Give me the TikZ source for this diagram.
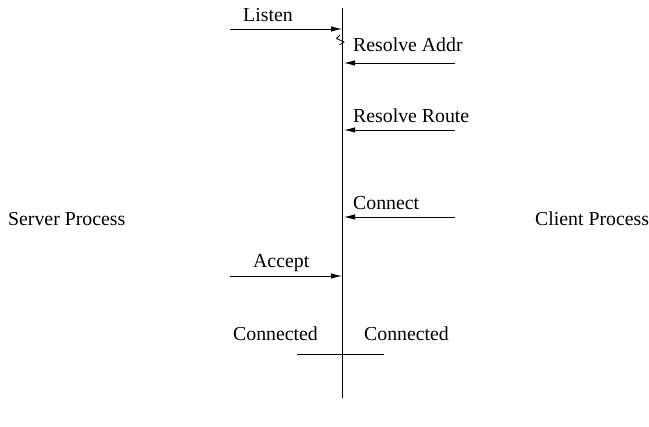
\documentclass[tikz,border=0pt]{standalone}
\usepackage{fontspec}
\setmainfont{Liberation Serif}
\usetikzlibrary{arrows.meta, positioning}
\tikzset{
  msg/.style={-{Latex[length=11pt,width=5.5pt]}, line width=0.9pt, color=black},
  line/.style={line width=0.9pt, color=black},
  lbl/.style={anchor=base west, inner sep=0pt, font=\fontsize{19.8}{24}\selectfont}
}
\begin{document}
\begin{tikzpicture}[x=1pt, y=-1pt]
  \useasboundingbox (0,0) rectangle (649,427);
  % lifeline
  \coordinate (top) at (342.5,8);
  \coordinate (bot) at (342.5,398);
  \draw[line] (top) -- (bot);

  % processes
  \node[lbl] (server) at (8,226) {Server Process};
  \node[lbl] (client) at (535,226) {Client Process};

  % Listen
  \coordinate (listenA) at (230,29);
  \coordinate (listenB) at (342,29);
  \draw[msg] (listenA) -- (listenB);
  \node[lbl] (listen) at (243,22) {Listen};
  \draw[line, line width=0.8pt] (340,35) -- (336.5,38.5) -- (344,42) -- (339.5,45);

  % Resolve Addr
  \coordinate (addrA) at (455,63);
  \coordinate (addrB) at (344,63);
  \draw[msg] (addrA) -- (addrB);
  \node[lbl] (addr) at (353,52) {Resolve Addr};

  % Resolve Route
  \coordinate (routeA) at (455,130);
  \coordinate (routeB) at (344,130);
  \draw[msg] (routeA) -- (routeB);
  \node[lbl] (route) at (353,123) {Resolve Route};

  % Connect
  \coordinate (connA) at (455,217);
  \coordinate (connB) at (344,217);
  \draw[msg] (connA) -- (connB);
  \node[lbl] (conn) at (353,210) {Connect};

  % Accept
  \coordinate (accA) at (230,276);
  \coordinate (accB) at (342,276);
  \draw[msg] (accA) -- (accB);
  \node[lbl] (acc) at (253,268) {Accept};

  % Connected
  \node[lbl] (connL) at (233,341) {Connected};
  \node[lbl] (connR) at (364,341) {Connected};
  \coordinate (barA) at (297,354);
  \coordinate (barB) at (384,354);
  \draw[line] (barA) -- (barB);
\end{tikzpicture}
\end{document}
